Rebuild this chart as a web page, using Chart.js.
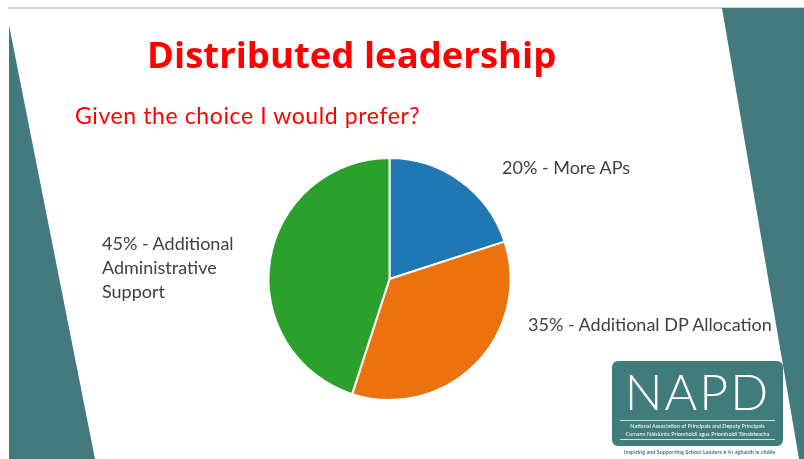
<!DOCTYPE html>
<html>
<head>
<meta charset="utf-8">
<script src="https://cdn.jsdelivr.net/npm/chart.js@4.4.1/dist/chart.umd.min.js"></script>
<style>
  html, body { margin: 0; padding: 0; background: #fff; }
  #slide { position: relative; width: 804px; height: 459px; overflow: hidden; }
  #slide canvas { position: absolute; left: 0; top: 0; }
  .txt { position: absolute; white-space: nowrap; }
  #title { left: 147px; top: 29px; font: bold 36.5px "Open Sans", sans-serif; color: #ff0000; }
  #subtitle { left: 75px; top: 101px; font: 23px Lato, sans-serif; letter-spacing: 0.6px; color: #ff0000; }
  .lbl { font: 18px Lato, sans-serif; color: #404040; line-height: 24px; }
  #logo { position: absolute; left: 612px; top: 361px; width: 171px; height: 85px;
          background: #3f7c7b; border-radius: 6px; color: #fff; text-align: center; }
  #logo .big { font: 300 50px Lato, sans-serif; letter-spacing: 2px; line-height: 50px; margin-top: 5px; }
  #logo .small { font: 5.5px Lato, sans-serif; line-height: 8px; border-top: 1px solid #cfe0df;
                 border-bottom: 1px solid #cfe0df; margin: 4px 8px 0 8px; padding: 1px 0; }
  #tagline { left: 624px; top: 449px; font: bold 5.5px Lato, sans-serif; color: #3f7c7b; }
</style>
</head>
<body>
<div id="slide">
  <canvas id="chart" width="804" height="459"></canvas>
  <div class="txt" id="title">Distributed leadership</div>
  <div class="txt" id="subtitle">Given the choice I would prefer?</div>
  <div class="txt lbl" id="lbl0" style="left:502px; top:155px;"></div>
  <div class="txt lbl" id="lbl1" style="left:528px; top:312px;"></div>
  <div class="txt lbl" id="lbl2" style="left:102px; top:231px;"></div>
  <div id="logo">
    <div class="big">NAPD</div>
    <div class="small">National Association of Principals and Deputy Principals<br>Cumann Náisiúnta Príomhoidí agus Príomhoidí Tánaisteacha</div>
  </div>
  <div class="txt" id="tagline">Inspiring and Supporting School Leaders • Ar aghaidh le chéile</div>
</div>
<script>
  // slide data
  const categories = ["More APs", "Additional DP Allocation", "Additional Administrative Support"];
  const shares = [20, 35, 45];
  const labelLines = [
    ["20% - More APs"],
    ["35% - Additional DP Allocation"],
    ["45% - Additional", "Administrative", "Support"]
  ];
  const sliceColors = ["#1f77b4", "#eb720c", "#2ca02c"];

  labelLines.forEach((lines, i) => {
    document.getElementById("lbl" + i).innerHTML = lines.join("<br>");
  });

  const teal = "#427a7e";

  // draws the slide backdrop before the pie
  const backdrop = {
    id: "backdrop",
    beforeDraw(chart) {
      const ctx = chart.ctx;
      ctx.save();
      ctx.fillStyle = "#fff";
      ctx.fillRect(0, 0, chart.width, chart.height);
      ctx.fillStyle = "#d4d4d4";
      ctx.fillRect(8, 7, 796, 2);
      ctx.fillStyle = teal;
      ctx.beginPath();
      ctx.moveTo(9, 25);
      ctx.lineTo(95, 459);
      ctx.lineTo(9, 459);
      ctx.closePath();
      ctx.fill();
      ctx.beginPath();
      ctx.moveTo(722, 8);
      ctx.lineTo(804, 8);
      ctx.lineTo(804, 459);
      ctx.lineTo(799, 459);
      ctx.closePath();
      ctx.fill();
      ctx.restore();
    }
  };

  new Chart(document.getElementById("chart"), {
    type: "pie",
    data: {
      labels: categories,
      datasets: [{
        data: shares,
        backgroundColor: sliceColors,
        borderColor: "#ffffff",
        borderWidth: 2,
        hoverOffset: 0
      }]
    },
    options: {
      responsive: false,
      animation: false,
      layout: { padding: { left: 267, right: 292, top: 157, bottom: 58 } },
      plugins: {
        legend: { display: false },
        tooltip: { enabled: false }
      }
    },
    plugins: [backdrop]
  });
</script>
</body>
</html>
